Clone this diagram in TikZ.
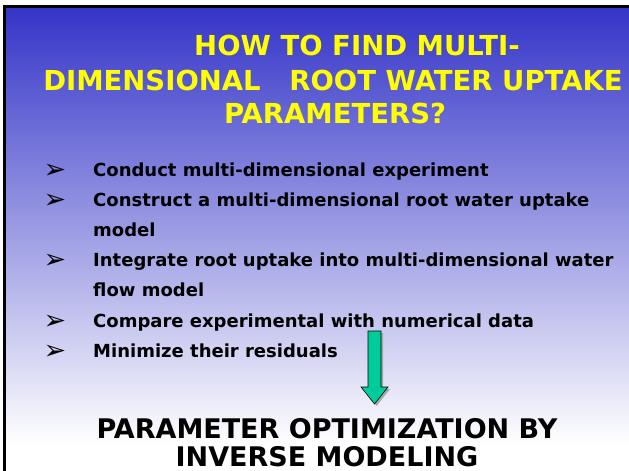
\documentclass[tikz,border=0pt]{standalone}
\usepackage{fontspec}
\setmainfont{DejaVu Sans}
\newfontfamily\symfont{DejaVu Sans}
\definecolor{slidetop}{RGB}{52,52,200}
\definecolor{titleyellow}{RGB}{255,255,0}
\definecolor{arrowgreen}{RGB}{0,204,153}
\begin{document}
\begin{tikzpicture}[x=1pt,y=-1pt,
  titletext/.style={text=titleyellow,font=\bfseries\fontsize{27.5}{30}\selectfont,inner sep=0pt,anchor=base},
  bullettext/.style={font=\bfseries\fontsize{18}{20}\selectfont,anchor=base west,inner sep=0pt},
  bulletmark/.style={font=\symfont\fontsize{27}{30}\selectfont,anchor=base,inner sep=0pt},
  bottomtext/.style={font=\bfseries\fontsize{27}{30}\selectfont,anchor=base,inner sep=0pt}]
\useasboundingbox (0,0) rectangle (629,471);
% page and slide background
\fill[white] (0,0) rectangle (629,471);
\shade[top color=slidetop,bottom color=white] (5,6) rectangle (629,445);
\fill[white] (5,445) rectangle (629,471);
% slide frame (left and top edges)
\draw[line width=3pt] (4.5,471) -- (4.5,6) -- (629,6);
% title
\node[titletext] (t1) at (357,55) {HOW TO FIND MULTI-};
\node[titletext] (t2) at (333,90) {DIMENSIONAL\ \ \ ROOT WATER UPTAKE};
\node[titletext] (t3) at (335,123) {PARAMETERS?};
% bullet list
\foreach \y/\n in {178/1,208/2,268/3,329/4,359/5}{
  \node[bulletmark] (m\n) at (55,\y) {➢};
}
\node[bullettext] (b1) at (93,176) {Conduct multi-dimensional experiment};
\node[bullettext] (b2) at (93,206) {Construct a multi-dimensional root water uptake};
\node[bullettext] (b2b) at (93,236) {model};
\node[bullettext] (b3) at (93,266) {Integrate root uptake into multi-dimensional water};
\node[bullettext] (b3b) at (93,296) {flow model};
\node[bullettext] (b4) at (93,327) {Compare experimental with numerical data};
\node[bullettext] (b5) at (93,357) {Minimize their residuals};
% down arrow with drop shadow
\fill[gray!70] (370,333) -- (383,333) -- (383,389) -- (390,389) -- (376.5,406) -- (363,389) -- (370,389) -- cycle;
\filldraw[fill=arrowgreen,draw=black,line width=0.6pt] (368,331) -- (381,331) -- (381,387) -- (388,387) -- (374.5,404) -- (361,387) -- (368,387) -- cycle;
% conclusion
\node[bottomtext] (c1) at (327,438) {PARAMETER OPTIMIZATION BY};
\node[bottomtext] (c2) at (327,466) {INVERSE MODELING};
\end{tikzpicture}
\end{document}
